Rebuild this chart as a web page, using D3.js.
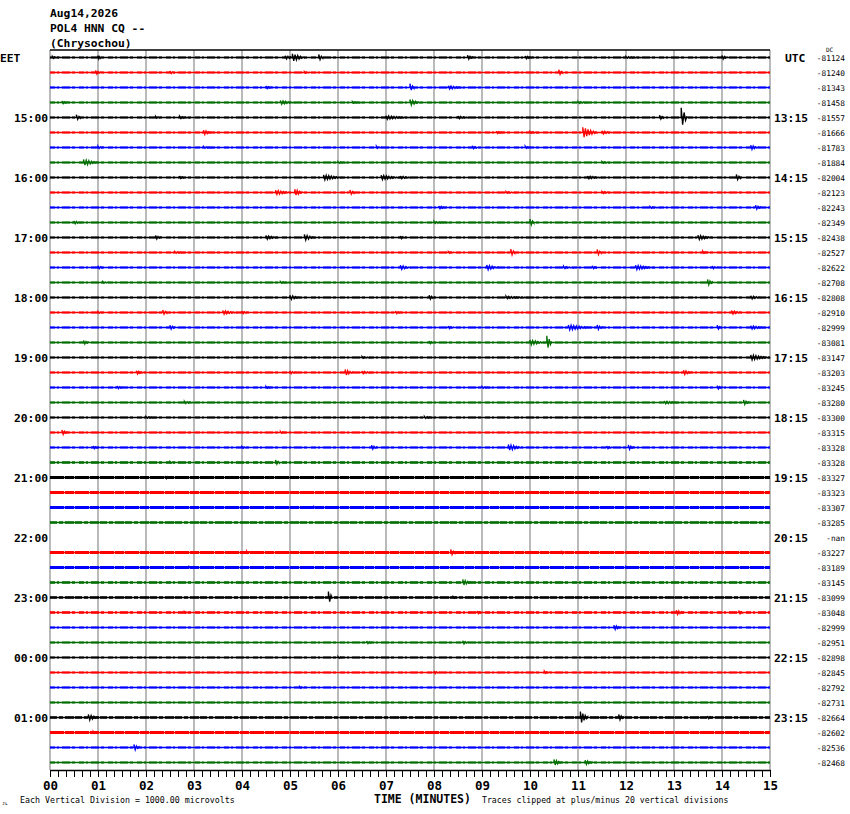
<!DOCTYPE html>
<html><head><meta charset="utf-8">
<script src="https://cdn.jsdelivr.net/npm/d3@7/dist/d3.min.js"></script>
<style>html,body{margin:0;padding:0;background:#fff;}svg{display:block;}</style>
</head><body>
<script>
// ---------- DATA ----------
const titleLines = ["Aug14,2026", "POL4 HNN CQ --", "(Chrysochou)"];
const minuteTicks = d3.range(0, 16);
const traceColors = ["#000000", "#ff0000", "#0000ff", "#006e00"];
const leftHourLabels = ["15:00","16:00","17:00","18:00","19:00","20:00","21:00","22:00","23:00","00:00","01:00"];
const rightHourLabels = ["13:15","14:15","15:15","16:15","17:15","18:15","19:15","20:15","21:15","22:15","23:15"];
const dcValues = ["-81124","-81240","-81343","-81458","-81557","-81666","-81783","-81884",
  "-82004","-82123","-82243","-82349","-82438","-82527","-82622","-82708",
  "-82808","-82910","-82999","-83081","-83147","-83203","-83245","-83280",
  "-83300","-83315","-83328","-83328","-83327","-83323","-83307","-83285",
  "-nan","-83227","-83189","-83145","-83099","-83048","-82999","-82951",
  "-82898","-82845","-82792","-82731","-82664","-82602","-82536","-82468"];
const missingRows = [32];
// background noise level per row (microvolts)
const noiseLevel = [30,30,30,30,30,30,30,30, 30,30,30,30,30,30,30,30,
  30,30,30,30,30,30,30,30, 30,30,30,35,55,55,55,40,
  0,55,50,35,40,35,30,30, 30,30,30,30,45,50,30,30];
// events: [row, start minute, amplitude (microvolts), duration (minutes)]
const events = [
 [0,0.05,70,0.15],[0,1.0,130,0.05],[0,4.9,120,0.2],[0,5.05,250,0.25],[0,5.6,200,0.08],[0,8.7,150,0.1],[0,9.9,100,0.15],[0,12.0,60,0.3],[0,14.0,130,0.1],
 [1,0.95,130,0.1],[1,2.5,100,0.08],[1,5.3,60,0.1],[1,10.6,180,0.08],
 [2,4.5,100,0.1],[2,7.5,250,0.08],[2,8.3,120,0.3],
 [3,0.25,100,0.1],[3,4.8,130,0.3],[3,6.3,60,0.2],[3,7.5,200,0.2],[3,11.0,70,0.2],
 [4,0.55,180,0.08],[4,2.2,70,0.1],[4,2.7,80,0.2],[4,7.0,120,0.5],[4,8.5,100,0.2],[4,12.7,150,0.08],[4,13.15,650,0.12],
 [5,3.2,150,0.15],[5,9.3,80,0.15],[5,10.0,60,0.2],[5,11.1,350,0.3],[5,11.5,120,0.2],
 [6,1.0,80,0.1],[6,3.2,60,0.2],[6,6.8,80,0.1],[6,8.8,120,0.08],[6,9.9,80,0.1],[6,14.6,150,0.15],
 [7,0.7,200,0.3],[7,6.0,60,0.2],[7,11.5,60,0.2],
 [8,2.7,100,0.08],[8,5.7,170,0.4],[8,6.9,150,0.4],[8,7.3,100,0.2],[8,11.2,100,0.3],[8,14.3,200,0.08],
 [9,4.7,150,0.3],[9,5.1,220,0.15],[9,6.25,170,0.08],[9,9.5,60,0.2],[9,11.5,70,0.2],
 [10,8.1,100,0.15],[10,12.5,60,0.2],[10,14.7,150,0.1],
 [11,0.5,100,0.15],[11,8.0,70,0.3],[11,10.0,230,0.08],
 [12,2.2,130,0.1],[12,4.5,130,0.25],[12,5.3,200,0.2],[12,7.3,100,0.1],[12,13.5,150,0.3],
 [13,2.6,60,0.2],[13,8.3,60,0.1],[13,9.6,230,0.08],[13,11.4,200,0.08],[13,13.6,80,0.1],
 [14,1.0,120,0.08],[14,7.3,150,0.2],[14,9.1,170,0.25],[14,10.7,80,0.2],[14,11.3,120,0.08],[14,12.2,150,0.4],[14,13.8,100,0.1],
 [15,1.1,60,0.1],[15,4.8,60,0.2],[15,13.7,200,0.1],
 [16,5.0,150,0.2],[16,7.9,150,0.1],[16,9.5,80,0.5],[16,14.6,120,0.2],
 [17,1.0,60,0.1],[17,2.35,170,0.08],[17,3.6,130,0.3],[17,4.0,100,0.1],[17,7.2,100,0.1],[17,14.2,130,0.2],
 [18,2.5,150,0.1],[18,8.3,100,0.1],[18,10.8,170,0.5],[18,11.4,170,0.1],[18,13.9,150,0.08],[18,14.6,120,0.3],
 [19,0.7,130,0.1],[19,7.9,100,0.1],[19,10.0,170,0.3],[19,10.35,450,0.1],
 [20,6.5,60,0.2],[20,14.6,170,0.4],
 [21,1.8,120,0.15],[21,5.0,100,0.1],[21,6.15,200,0.15],[21,6.5,100,0.2],[21,13.2,150,0.15],
 [22,1.4,100,0.1],[22,4.5,70,0.1],[22,9.0,60,0.2],[22,13.9,120,0.1],
 [23,2.8,80,0.2],[23,12.8,100,0.3],[23,14.45,170,0.1],
 [24,2.0,60,0.2],[24,7.8,70,0.2],
 [25,0.25,170,0.1],[25,4.8,70,0.1],
 [26,0.9,100,0.1],[26,4.0,60,0.1],[26,6.7,150,0.1],[26,9.55,200,0.3],[26,11.6,100,0.1],[26,12.05,170,0.1],
 [27,2.5,60,0.1],[27,4.7,170,0.08],
 [28,2.4,100,0.1],
 [30,5.5,60,0.1],
 [33,4.1,80,0.1],[33,8.35,200,0.08],[33,10.65,120,0.08],
 [34,2.9,60,0.1],[34,12.0,60,0.1],
 [35,8.6,200,0.15],
 [36,5.8,400,0.08],[36,8.4,60,0.1],
 [37,2.8,60,0.1],[37,8.9,100,0.1],[37,13.05,150,0.15],[37,14.35,130,0.08],
 [38,11.75,150,0.15],
 [39,6.6,100,0.1],[39,8.6,120,0.1],
 [40,6.0,60,0.1],
 [41,8.0,100,0.1],[41,10.3,80,0.1],
 [42,5.2,60,0.1],
 [44,0.8,200,0.2],[44,11.05,400,0.15],[44,11.85,200,0.1],[44,13.7,100,0.1],
 [45,0.9,70,0.1],
 [46,1.75,200,0.1],
 [47,10.5,200,0.15],[47,11.15,150,0.15]
];

// ---------- LAYOUT ----------
const W = 850, H = 814;
const plot = {left: 50, right: 770, top: 50, bottom: 770};
const nRows = dcValues.length;
const x = d3.scaleLinear().domain([0, 15]).range([plot.left, plot.right]);
const rowY = d3.scaleLinear().domain([0, nRows - 1]).range([57.5, 762.5]);
const uv = d3.scaleLinear().domain([0, 1000]).range([0, 15]); // 1 vertical division = 1000 µV
const mono = "'DejaVu Sans Mono', 'Liberation Mono', monospace";

const svg = d3.select("body").append("svg").attr("width", W).attr("height", H)
  .style("font-family", mono);

// title
svg.append("g").selectAll("text").data(titleLines).join("text")
  .attr("x", 50).attr("y", (d, i) => 17 + i * 15)
  .attr("font-size", 11.3).attr("font-weight", "bold").text(d => d);

// grid
svg.append("g").selectAll("line").data(minuteTicks).join("line")
  .attr("x1", d => x(d)).attr("x2", d => x(d))
  .attr("y1", plot.top).attr("y2", plot.bottom)
  .attr("stroke", "#808080").attr("stroke-width", 1.1);
svg.append("line").attr("x1", plot.left).attr("x2", plot.right)
  .attr("y1", plot.top).attr("y2", plot.top).attr("stroke", "#000").attr("stroke-width", 1.5);

// traces
const line = d3.line().x(d => x(d[0])).y(d => d[1]);
const traceG = svg.append("g");
d3.range(nRows).forEach(r => {
  if (missingRows.includes(r)) return;
  const col = traceColors[r % 4];
  const y0 = rowY(r);
  const nl = noiseLevel[r];
  // thin baseline
  traceG.append("line").attr("x1", plot.left).attr("x2", plot.right)
    .attr("y1", y0).attr("y2", y0).attr("stroke", col).attr("stroke-width", 1.3);
  // broken noise band around the baseline
  traceG.append("line").attr("x1", plot.left).attr("x2", plot.right)
    .attr("y1", y0).attr("y2", y0).attr("stroke", col)
    .attr("stroke-width", 1.0 + uv(nl) * 2.5)
    .attr("stroke-dasharray", nl >= 50 ? "14 1 9 1" : (nl >= 40 ? "7 2 4 2 9 1" : "5 2 2 3 8 2 3 4"));
  events.filter(e => e[0] === r).forEach(e => {
    const [, m, a, dur] = e;
    const n = Math.max(3, Math.round(dur * 48 / 1.3));
    const pts = [[m, y0]];
    for (let k = 0; k <= n; k++) {
      const t = m + dur * k / n;
      const env = Math.pow(1 - k / (n + 1), 1.3);
      const sgn = k % 2 === 0 ? -1 : 1;
      pts.push([t, y0 + sgn * uv(a) * env]);
    }
    pts.push([m + dur, y0]);
    traceG.append("path").attr("d", line(pts)).attr("fill", "none")
      .attr("stroke", col).attr("stroke-width", 1.3);
  });
});

// left labels
svg.append("text").attr("x", 0).attr("y", rowY(0) + 4.5).attr("font-size", 11.3)
  .attr("font-weight", "bold").text("EET");
svg.append("g").selectAll("text").data(leftHourLabels).join("text")
  .attr("x", 48).attr("y", (d, i) => rowY(4 + i * 4) + 4.5).attr("text-anchor", "end")
  .attr("font-size", 11.3).attr("font-weight", "bold").text(d => d);

// right labels
svg.append("text").attr("x", 785).attr("y", rowY(0) + 4.5).attr("font-size", 11.3)
  .attr("font-weight", "bold").text("UTC");
svg.append("g").selectAll("text").data(rightHourLabels).join("text")
  .attr("x", 774).attr("y", (d, i) => rowY(4 + i * 4) + 4.5)
  .attr("font-size", 11.3).attr("font-weight", "bold").text(d => d);
svg.append("g").selectAll("text").data(dcValues).join("text")
  .attr("x", 845).attr("y", (d, i) => rowY(i) + 3.5).attr("text-anchor", "end")
  .attr("font-size", 7.8).text(d => d);
svg.append("text").attr("x", 826).attr("y", 52).attr("font-size", 6).text("DC");

// bottom axis
const minorTicks = d3.range(0, 15 * 6 + 1).map(d => d / 6);
const axMinor = svg.append("g").attr("transform", `translate(0,${plot.bottom})`)
  .call(d3.axisBottom(x).tickValues(minorTicks).tickSize(7).tickSizeOuter(0).tickFormat(""));
axMinor.select(".domain").attr("stroke", "#000").attr("stroke-width", 1.5);
axMinor.selectAll(".tick line").attr("stroke", "#000").attr("stroke-width", 1);
const axMajor = svg.append("g").attr("transform", `translate(0,${plot.bottom})`)
  .call(d3.axisBottom(x).tickValues(minuteTicks).tickSize(0).tickPadding(11)
    .tickFormat(d3.format("02d")));
axMajor.select(".domain").remove();
axMajor.selectAll("text").attr("font-family", mono).attr("font-size", 12.5)
  .attr("font-weight", "bold").attr("fill", "#000");

svg.append("text").attr("x", 374).attr("y", 803).attr("font-size", 11.5)
  .attr("font-weight", "bold").text("TIME (MINUTES)");
svg.append("text").attr("x", 20).attr("y", 803).attr("font-size", 8.3)
  .text("Each Vertical Division = 1000.00 microvolts");
svg.append("text").attr("x", 482).attr("y", 803).attr("font-size", 8.2)
  .text("Traces clipped at plus/minus 20 vertical divisions");
svg.append("text").attr("x", 2).attr("y", 805).attr("font-size", 5).text("ᴊʟ");
</script>
</body></html>
